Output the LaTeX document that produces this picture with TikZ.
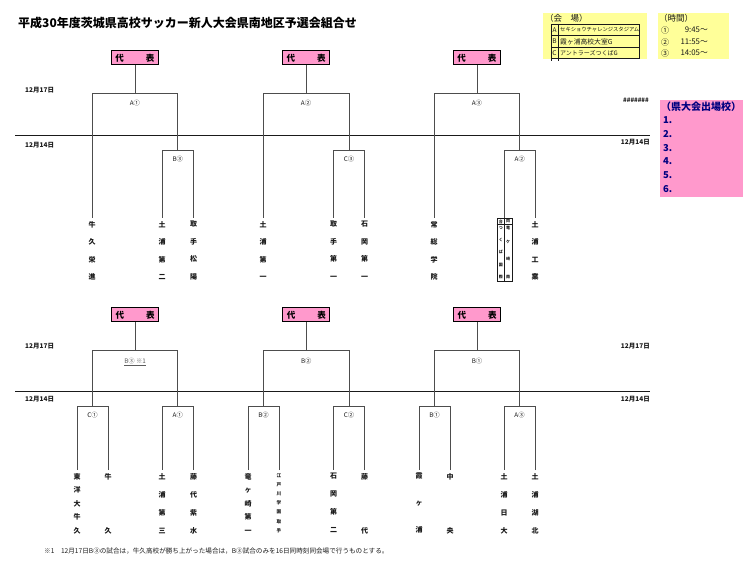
\documentclass[tikz,border=0pt]{standalone}
\usepackage{fontspec}
\setmainfont{Noto Sans CJK JP}
\usepackage{tikz}
\usetikzlibrary{positioning}
\definecolor{Rep}{HTML}{FF99CC}
\definecolor{Memo}{HTML}{FFFF99}
\definecolor{Navy}{HTML}{000080}
\definecolor{Ink}{HTML}{1A1A1A}
\definecolor{Wire}{HTML}{4D4D4D}
\definecolor{Mute}{HTML}{5C5C5C}
\newcommand{\fsz}[2]{\fontsize{#1}{#2}\selectfont}

\begin{document}
\begin{tikzpicture}[x=1pt,y=-1pt,
  wire/.style={Wire,line width=0.6pt},
  rule/.style={Ink,line width=0.7pt},
  repbox/.style={draw=black,line width=1.2pt,fill=Rep,minimum width=47pt,minimum height=14pt,inner sep=0pt,font=\bfseries\fsz{8.5}{9}},
  team/.style={anchor=north,inner xsep=0pt,inner ysep=3pt,align=center,text=Ink,font=\bfseries\fsz{7}{#1}},
  team/.default=17.5,
  lbl/.style={font=\fsz{6.3}{6.5},text=Ink,inner sep=0pt},
  day/.style={font=\bfseries\fsz{6.5}{7},text=Ink,inner sep=0pt},
  memo/.style={font=\fsz{8.5}{9},text=Ink,inner sep=0pt}]
  \useasboundingbox[fill=white] (0,0) rectangle (750,569);
  \node[anchor=west,font=\bfseries\fsz{12}{12},inner sep=0pt] (title) at (18,23) {平成30年度茨城県高校サッカー新人大会県南地区予選会組合せ};

  % venues
  \fill[Memo] (543,13) rectangle (647,59);
  \node[memo,anchor=west] (venuehd) at (545,18) {（会　場）};
  \draw[Ink,line width=0.5pt] (551,24) rectangle (639,58.5);
  \draw[Ink,line width=0.5pt] (551,58.5) -- (551,61) (558,24) -- (558,61);
  \foreach \y in {35.5,47} \draw[Ink,line width=0.5pt] (551,\y) -- (639,\y);
  \foreach \c/\y in {A/30,B/41.5,C/53} \node[memo,font=\fsz{6.5}{7}] (vl\c) at (554.5,\y) {\c};
  \node[memo,anchor=west,font=\fsz{5.3}{6}] (vA) at (560,30) {セキショウチャレンジスタジアム};
  \node[memo,anchor=west,font=\fsz{6.8}{7}] (vB) at (560,41.5) {霞ヶ浦高校大室G};
  \node[memo,anchor=west,font=\fsz{6}{7}] (vC) at (560,53) {アントラーズつくばG};

  % times
  \fill[Memo] (658,13) rectangle (729,59);
  \node[memo,anchor=west] (timehd) at (659,18) {（時間）};
  \foreach \n/\t/\y in {①/9:45～/30,②/11:55～/42,③/14:05～/53} {
    \node[memo,anchor=west,font=\fsz{8}{8}] (tn\y) at (661,\y) {\n};
    \node[memo,anchor=east,font=\fsz{7.8}{8}] (tt\y) at (708,\y) {\t};
  }

  % qualified
  \fill[Rep] (660,100) rectangle (743,197);
  \node[anchor=west,inner sep=0pt,font=\bfseries\fsz{10}{10},text=Navy] (qualhd) at (661,107) {（県大会出場校）};
  \foreach \i in {1,...,6}
    \node[anchor=west,inner sep=0pt,font=\bfseries\fsz{9.5}{10},text=Navy] (ql\i) at (663,{107+13.6*\i}) {\i.};

  % days
  \draw[rule] (15,135) -- (650,135);
  \draw[rule] (15,391) -- (650,391);
  \node[day,anchor=west] (d1) at (25,90) {12月17日};
  \node[day,anchor=west] (d2) at (25,145) {12月14日};
  \node[day,anchor=west] (d3) at (25,346) {12月17日};
  \node[day,anchor=west] (d4) at (25,399) {12月14日};
  \node[day,anchor=east,font=\bfseries\fsz{6}{6}] (d5) at (649,100) {\#\#\#\#\#\#\#};
  \node[day,anchor=east] (d6) at (650,142) {12月14日};
  \node[day,anchor=east] (d7) at (650,346) {12月17日};
  \node[day,anchor=east] (d8) at (650,399) {12月14日};

  % upper teams
  \node[team] (t1) at (92,218) {牛\\久\\栄\\進};
  \node[team] (t2) at (162,218) {土\\浦\\第\\二};
  \node[team] (t3) at (193.5,218) {取\\手\\松\\陽};
  \node[team] (t4) at (263,218) {土\\浦\\第\\一};
  \node[team] (t5) at (333.5,218) {取\\手\\第\\一};
  \node[team] (t6) at (364.5,218) {石\\岡\\第\\一};
  \node[team] (t7) at (434,218) {常\\総\\学\\院};
  \node[draw=Ink,line width=0.6pt,anchor=north,minimum width=15pt,minimum height=63pt,inner sep=0pt] (t8) at (504.5,218) {};
  \draw[Ink,line width=0.5pt] (t8.north) -- (t8.south);
  \draw[Ink,line width=0.5pt] ([yshift=-6.5pt]t8.north west) -- ([yshift=-6.5pt]t8.north east);
  \foreach \c/\x/\y [count=\k] in {合/500.8/221.5,つ/500.8/228,く/500.8/240,ば/500.8/252,国/500.8/265,際/500.8/277,
      同/508.2/221.5,竜/508.2/228,ケ/508.2/242,崎/508.2/259,南/508.2/277}
    \node[inner sep=0pt,font=\bfseries\fsz{4}{4},text=Ink] (tc\k) at (\x,\y) {\c};
  \node[team] (t9) at (535,218) {土\\浦\\工\\業};

  % lower teams
  \node[team=13.5] (u1) at (77,470) {東\\洋\\大\\牛\\久};
  \node[team=13.5] (u2) at (108,470) {牛\\\mbox{}\\\mbox{}\\\mbox{}\\久};
  \node[team=18] (u3) at (162,470) {土\\浦\\第\\三};
  \node[team=18] (u4) at (193.5,470) {藤\\代\\紫\\水};
  \node[team=13.5] (u5) at (248,470) {竜\\ヶ\\崎\\第\\一};
  \node[team,font=\bfseries\fsz{4.6}{9.2}] (u6) at (279,470) {江\\戸\\川\\学\\園\\取\\手};
  \node[team=18] (u7) at (333.5,470) {石\\岡\\第\\二};
  \node[team=18] (u8) at (364.5,470) {藤\\\mbox{}\\\mbox{}\\代};
  \node[team=13.5] (u9) at (419,470) {霞\\\mbox{}\\ヶ\\\mbox{}\\浦};
  \node[team=18] (u10) at (450,470) {中\\\mbox{}\\\mbox{}\\央};
  \node[team=18] (u11) at (504,470) {土\\浦\\日\\大};
  \node[team=18] (u12) at (535,470) {土\\浦\\湖\\北};

  % brackets
  \foreach \l/\r/\y/\m in {t2.north/t3.north/150/s1, t5.north/t6.north/150/s2, t8.north/t9.north/150/s3,
      t1.north/s1/93/f1, t4.north/s2/93/f2, t7.north/s3/93/f3,
      u1.north/u2.north/406/q1, u3.north/u4.north/406/q2, u5.north/u6.north/406/q3,
      u7.north/u8.north/406/q4, u9.north/u10.north/406/q5, u11.north/u12.north/406/q6,
      q1/q2/350/g1, q3/q4/350/g2, q5/q6/350/g3}
    \draw[wire] (\r) -- (\r |- 0,\y) -- coordinate[midway] (\m) (\l |- 0,\y) -- (\l);

  \foreach \m/\t in {f1/A①,f2/A②,f3/A③} \node[lbl,below=7pt of \m] (l\m) {\t};
  \foreach \m/\t in {s1/B③,s2/C③,s3/A②,q1/C①,q2/A①,q3/B②,q4/C②,q5/B①,q6/A③}
    \node[lbl,below=6pt of \m] (l\m) {\t};
  \node[lbl,below=8pt of g1,text=Mute] (lg1) {\underline{B③ ※1}};
  \node[lbl,below=8pt of g2] (lg2) {B②};
  \node[lbl,below=8pt of g3] (lg3) {B①};

  % representatives
  \foreach \m/\r in {f1/repA,f2/repB,f3/repC,g1/repD,g2/repE,g3/repF} {
    \node[repbox,above=27.5pt of \m] (\r) {\makebox[39pt]{代\hfill 表}};
    \draw[wire] (\r) -- (\m);
  }

  \node[anchor=west,font=\fsz{6.6}{7},text=Ink,inner sep=0pt] (note) at (44,551) {※1　12月17日B③の試合は，牛久高校が勝ち上がった場合は，B③試合のみを16日同時刻同会場で行うものとする。};
\end{tikzpicture}
\end{document}
